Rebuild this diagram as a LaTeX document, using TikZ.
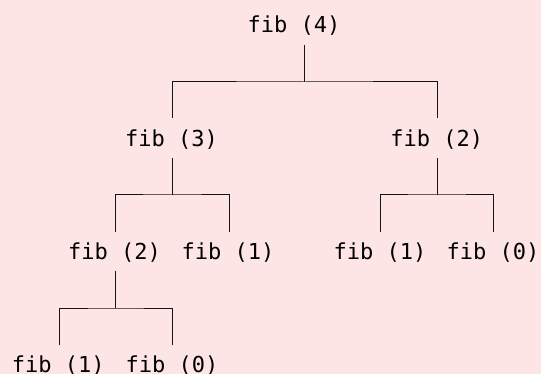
\documentclass[tikz,border=0pt]{standalone}
\usepackage{fontspec}
\setmonofont{DejaVu Sans Mono}
\definecolor{bgpink}{RGB}{253,228,229}
\definecolor{linegray}{RGB}{20,20,20}
\begin{document}
\begin{tikzpicture}[x=1pt,y=-1pt,
  call/.style={anchor=base,inner sep=0pt,font=\ttfamily\fontsize{22}{26}\selectfont},
  edge/.style={draw=linegray,line width=1pt}]
\fill[bgpink] (0,0) rectangle (541,374);
\useasboundingbox (0,0) rectangle (541,374);
% nodes
\node[call] (n4)   at (294,33)    {fib (4)};
\node[call] (n3)   at (171.5,146.3) {fib (3)};
\node[call] (n2r)  at (436.7,146.3) {fib (2)};
\node[call] (n2l)  at (114.5,259.7) {fib (2)};
\node[call] (n1a)  at (228,259.7) {fib (1)};
\node[call] (n1b)  at (380,259.7) {fib (1)};
\node[call] (n0a)  at (493,259.7) {fib (0)};
\node[call] (n1c)  at (58.3,372) {fib (1)};
\node[call] (n0b)  at (172,372) {fib (0)};
% stems below parents
\coordinate (s4)  at (304.7,45);
\coordinate (s3)  at (172.3,158);
\coordinate (s2r) at (437,158);
\coordinate (s2l) at (115.7,271.5);
% stem ends above children
\coordinate (t3)  at (172.3,118);
\coordinate (t2r) at (437.3,118);
\coordinate (t2l) at (115.7,231.7);
\coordinate (t1a) at (229.3,231.7);
\coordinate (t1b) at (380.3,231.7);
\coordinate (t0a) at (493.7,231.7);
\coordinate (t1c) at (59,345);
\coordinate (t0b) at (172.3,345);
% connectors
\draw[edge] (s4) -- (s4 |- 0,82) coordinate (h4);
\draw[edge] (t3) |- (h4) -| (t2r);
\draw[edge] (s3) -- (s3 |- 0,195) coordinate (h3);
\draw[edge] (t2l) |- (h3) -| (t1a);
\draw[edge] (s2r) -- (s2r |- 0,195) coordinate (h2r);
\draw[edge] (t1b) |- (h2r) -| (t0a);
\draw[edge] (s2l) -- (s2l |- 0,308) coordinate (h2l);
\draw[edge] (t1c) |- (h2l) -| (t0b);
\end{tikzpicture}
\end{document}
